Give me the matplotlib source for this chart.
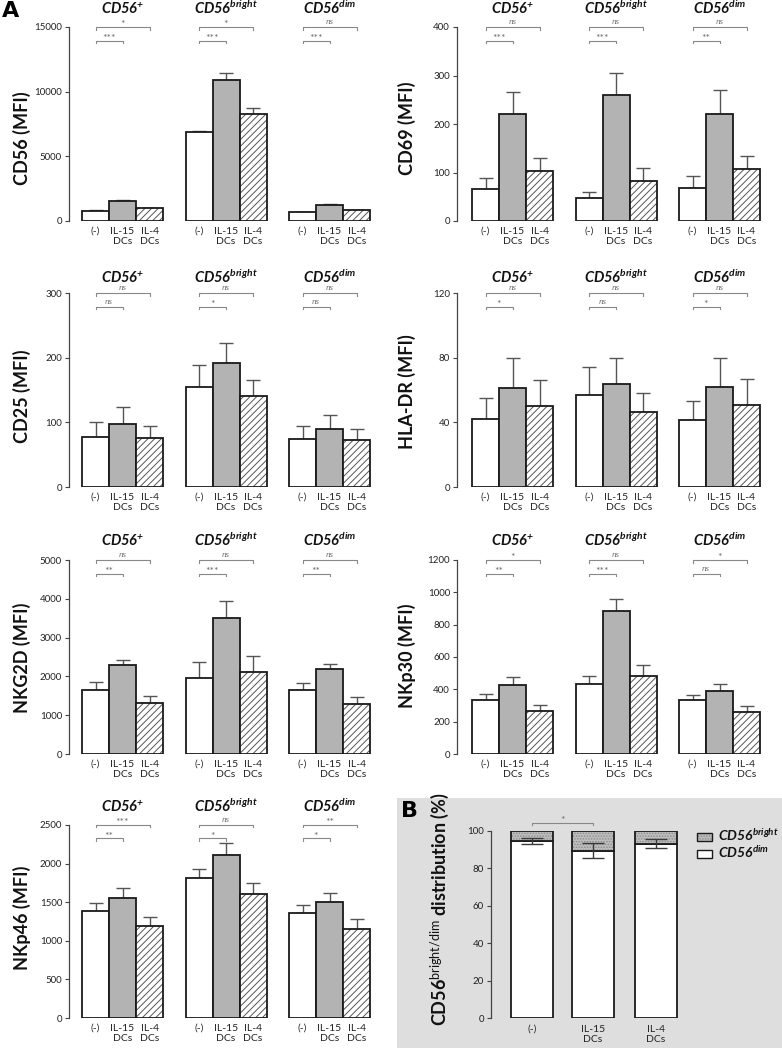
import matplotlib
matplotlib.use('Agg')
import matplotlib.pyplot as plt
from matplotlib.patches import Rectangle
import numpy as np

plt.rcParams['font.family'] = ['Lato', 'DejaVu Sans']
plt.rcParams['mathtext.fontset'] = 'custom'
plt.rcParams['mathtext.rm'] = 'Lato'
plt.rcParams['mathtext.it'] = 'Lato:italic'
plt.rcParams['mathtext.bf'] = 'Lato:bold'
plt.rcParams['hatch.linewidth'] = 0.7

# ---------------- data ----------------
subsets = ['+', 'bright', 'dim']
conditions = ['(-)', 'IL-15\nDCs', 'IL-4\nDCs']

cd56_mean = [[780, 1560, 990], [6900, 10900, 8300], [680, 1250, 840]]
cd56_err = [[50, 100, 30], [60, 550, 420], [30, 40, 20]]
cd56_sig = [('*', '***'), ('*', '***'), ('ns', '***')]
cd56_ticks = [0, 5000, 10000, 15000]

cd69_mean = [[65, 220, 103], [48, 259, 82], [68, 221, 107]]
cd69_err = [[23, 45, 27], [12, 47, 27], [25, 49, 26]]
cd69_sig = [('ns', '***'), ('ns', '***'), ('ns', '**')]
cd69_ticks = [0, 100, 200, 300, 400]

cd25_mean = [[78, 98, 76], [155, 192, 141], [75, 90, 72]]
cd25_err = [[22, 26, 19], [33, 30, 24], [19, 22, 18]]
cd25_sig = [('ns', 'ns'), ('ns', '*'), ('ns', 'ns')]
cd25_ticks = [0, 100, 200, 300]

hladr_mean = [[42.3, 61.3, 50.4], [56.8, 63.8, 46.5], [41.3, 61.7, 50.6]]
hladr_err = [[12.7, 18.2, 15.6], [17.2, 15.7, 11.5], [12.2, 18.3, 15.9]]
hladr_sig = [('ns', '*'), ('ns', 'ns'), ('ns', '*')]
hladr_ticks = [0, 40, 80, 120]

nkg2d_mean = [[1650, 2285, 1323], [1967, 3513, 2122], [1640, 2190, 1297]]
nkg2d_err = [[197, 137, 163], [395, 430, 403], [198, 138, 172]]
nkg2d_sig = [('ns', '**'), ('ns', '***'), ('ns', '**')]
nkg2d_ticks = [0, 1000, 2000, 3000, 4000, 5000]

nkp30_mean = [[335, 424, 269], [430, 885, 480], [331, 387, 261]]
nkp30_err = [[37, 52, 37], [50, 71, 72], [37, 45, 35]]
nkp30_sig = [('*', '**'), ('ns', '***'), ('*', 'ns')]
nkp30_ticks = [0, 200, 400, 600, 800, 1000, 1200]

nkp46_mean = [[1392, 1560, 1194], [1810, 2116, 1612], [1366, 1500, 1159]]
nkp46_err = [[104, 121, 112], [121, 147, 134], [104, 121, 117]]
nkp46_sig = [('***', '**'), ('ns', '*'), ('**', '*')]
nkp46_ticks = [0, 500, 1000, 1500, 2000, 2500]

# panel B
b_conditions = ['(-)', 'IL-15\nDCs', 'IL-4\nDCs']
b_dim = [94.6, 89.5, 93.3]
b_err = [1.8, 4.2, 2.4]
b_ticks = [0, 20, 40, 60, 80, 100]

# ---------------- layout ----------------
W, H = 782, 1048
fig = plt.figure(figsize=(W / 100, H / 100), dpi=100)

# gray background of panel B
fig.patches.append(Rectangle((397 / W, 0), (W - 397) / W, (H - 798) / H,
                             transform=fig.transFigure, facecolor='#dedede',
                             edgecolor='none', zorder=-10))


def px_ax(left, top, right, bottom):
    return fig.add_axes([left / W, 1 - bottom / H, (right - left) / W, (bottom - top) / H])


def fx(x):
    return x / W


def fy(y):
    return 1 - y / H


BAR_PX = 27.0
PITCH = 103.5 / BAR_PX
FACE = ['white', '#b3b3b3', 'white']
SIGCOL = '#6e6e6e'


def style_axis(ax, ticks):
    ax.set_ylim(0, ticks[-1])
    ax.set_yticks(ticks)
    for s in ['top', 'right', 'bottom']:
        ax.spines[s].set_visible(False)
    ax.spines['left'].set_color('#444444')
    ax.spines['left'].set_linewidth(0.9)
    ax.tick_params(axis='y', length=3, width=0.8, color='#444444',
                   labelsize=7, labelcolor='#222222', pad=2)
    ax.tick_params(axis='x', length=0, labelsize=7.5, labelcolor='#222222', pad=4)
    ax.patch.set_alpha(0)


def bracket(ax, x1, x2, y, drop, txt, ymax):
    ax.plot([x1, x1, x2, x2], [y - drop, y, y, y - drop], color='#888888',
            lw=0.8, clip_on=False, zorder=5)
    if txt == 'ns':
        ax.text((x1 + x2) / 2, y + ymax * 0.004, 'ns', ha='center', va='bottom',
                fontsize=6.5, style='italic', family='Liberation Serif',
                color=SIGCOL, clip_on=False)
    else:
        ax.text((x1 + x2) / 2, y - ymax * 0.012, txt, ha='center', va='bottom',
                fontsize=7.5, color=SIGCOL, clip_on=False)


def panel(left, right, top, bottom, offset_px, mean, err, sig, ticks,
          ylabel, ylab_x, ylab_y, title_y):
    ax = px_ax(left, top, right, bottom)
    ymax = ticks[-1]
    ax.set_xlim(0, (right - left) / BAR_PX)
    off = offset_px / BAR_PX
    xt, xl = [], []
    for g in range(3):
        xs = off + g * PITCH + 0.5 + np.arange(3)
        m = np.array(mean[g], float)
        e = np.array(err[g], float)
        ax.errorbar(xs, m, yerr=[np.zeros(3), e], fmt='none', ecolor='#555555',
                    elinewidth=1.0, capsize=5, capthick=1.0, zorder=2)
        for i in range(3):
            if i == 2:
                ax.bar(xs[i], m[i], width=1.0, color='white', edgecolor='#555555',
                       hatch='/////', linewidth=0, zorder=3)
                ax.bar(xs[i], m[i], width=1.0, fill=False, edgecolor='#1a1a1a',
                       linewidth=1.3, zorder=4)
            else:
                ax.bar(xs[i], m[i], width=1.0, color=FACE[i], edgecolor='#1a1a1a',
                       linewidth=1.3, zorder=3)
        xt += list(xs)
        xl += conditions
        up, low = sig[g]
        drop = ymax * 2.5 / 194
        bracket(ax, xs[0], xs[2], ymax, drop, up, ymax)
        bracket(ax, xs[0], xs[1], ymax * (1 - 13.5 / 194), drop, low, ymax)
        # subset title
        tx = (left + (off + g * PITCH + 1.5) * BAR_PX)
        fig.text(fx(tx), fy(title_y), 'CD56$^{\\mathregular{%s}}$' % subsets[g],
                 ha='center', va='baseline', fontsize=10.5, fontweight='bold',
                 style='italic', color='#111111')
    ax.set_xticks(xt)
    ax.set_xticklabels(xl, linespacing=1.15)
    style_axis(ax, ticks)
    fig.text(fx(ylab_x), fy(ylab_y), ylabel, rotation=90, ha='center', va='center',
             fontsize=13, fontweight='bold', color='#111111')
    return ax


LL, LR = 69, 372
RL, RR = 457, 762
rows = [(27, 221), (293, 487), (560, 754), (825, 1018)]
title_base = [14, 283, 546, 812]

panel(LL, LR, *rows[0], 13, cd56_mean, cd56_err, cd56_sig, cd56_ticks,
      'CD56 (MFI)', 22, 138, title_base[0])
panel(RL, RR, *rows[0], 15, cd69_mean, cd69_err, cd69_sig, cd69_ticks,
      'CD69 (MFI)', 407, 128, title_base[0])
panel(LL, LR, *rows[1], 13, cd25_mean, cd25_err, cd25_sig, cd25_ticks,
      'CD25 (MFI)', 22, 396, title_base[1])
panel(RL, RR, *rows[1], 15, hladr_mean, hladr_err, hladr_sig, hladr_ticks,
      'HLA-DR (MFI)', 407, 392, title_base[1])
panel(LL, LR, *rows[2], 13, nkg2d_mean, nkg2d_err, nkg2d_sig, nkg2d_ticks,
      'NKG2D (MFI)', 22, 658, title_base[2])
panel(RL, RR, *rows[2], 15, nkp30_mean, nkp30_err, nkp30_sig, nkp30_ticks,
      'NKp30 (MFI)', 407, 656, title_base[2])
panel(LL, LR, *rows[3], 13, nkp46_mean, nkp46_err, nkp46_sig, nkp46_ticks,
      'NKp46 (MFI)', 22, 918, title_base[3])

# ---------------- panel B ----------------
bl, bt, br, bb = 491, 831, 690, 1018
axb = px_ax(bl, bt, br, bb)
axb.set_xlim(0, br - bl)
bx = np.array([41, 102, 165], float)
dim = np.array(b_dim)
bright = 100 - dim
axb.bar(bx, dim, width=42, color='white', edgecolor='#1a1a1a', linewidth=1.3, zorder=3)
axb.bar(bx, bright, bottom=dim, width=42, color='#bdbdbd', edgecolor='#8a8a8a',
        hatch='......', linewidth=0, zorder=3)
axb.bar(bx, bright, bottom=dim, width=42, fill=False, edgecolor='#1a1a1a',
        linewidth=1.3, zorder=4)
axb.errorbar(bx, dim, yerr=b_err, fmt='none', ecolor='#3a3a3a', elinewidth=1.0,
             capsize=8, capthick=1.0, zorder=5)
axb.set_xticks(bx)
axb.set_xticklabels(b_conditions, linespacing=1.15)
style_axis(axb, b_ticks)
axb.tick_params(axis='x', pad=5)
axb.plot([bx[0], bx[0], bx[1], bx[1]], [103.0, 104.3, 104.3, 103.0], color='#888888',
         lw=0.8, clip_on=False)
axb.text((bx[0] + bx[1]) / 2, 104.3 - 1.2, '*', ha='center', va='bottom', fontsize=7.5,
         color=SIGCOL, clip_on=False)
fig.text(fx(440), fy(909), 'CD56$^{\\mathrm{bright/dim}}$ distribution (%)', rotation=90,
         ha='center', va='center', fontsize=13, fontweight='bold', color='#111111')

# legend for B
leg = [('bright', '#bdbdbd', '......', 833), ('dim', 'white', None, 850)]
for name, fc, hatch, ytop in leg:
    r = Rectangle((fx(697), fy(ytop + 8)), 15 / W, 8 / H, transform=fig.transFigure,
                  facecolor=fc, edgecolor='#8a8a8a' if hatch else '#1a1a1a',
                  hatch=hatch, linewidth=0 if hatch else 1.0)
    fig.patches.append(r)
    if hatch:
        fig.patches.append(Rectangle((fx(697), fy(ytop + 8)), 15 / W, 8 / H,
                                     transform=fig.transFigure, fill=False,
                                     edgecolor='#1a1a1a', linewidth=1.0))
    fig.text(fx(718), fy(ytop + 8), 'CD56$^{\\mathregular{%s}}$' % name, ha='left',
             va='baseline', fontsize=10, fontweight='bold', style='italic', color='#111111')

# panel letters
fig.text(fx(2), fy(17), 'A', fontsize=16, fontweight='bold', family='DejaVu Sans',
         ha='left', va='baseline')
fig.text(fx(401), fy(817), 'B', fontsize=16, fontweight='bold', family='DejaVu Sans',
         ha='left', va='baseline')

fig.savefig('out.png', dpi=100)
